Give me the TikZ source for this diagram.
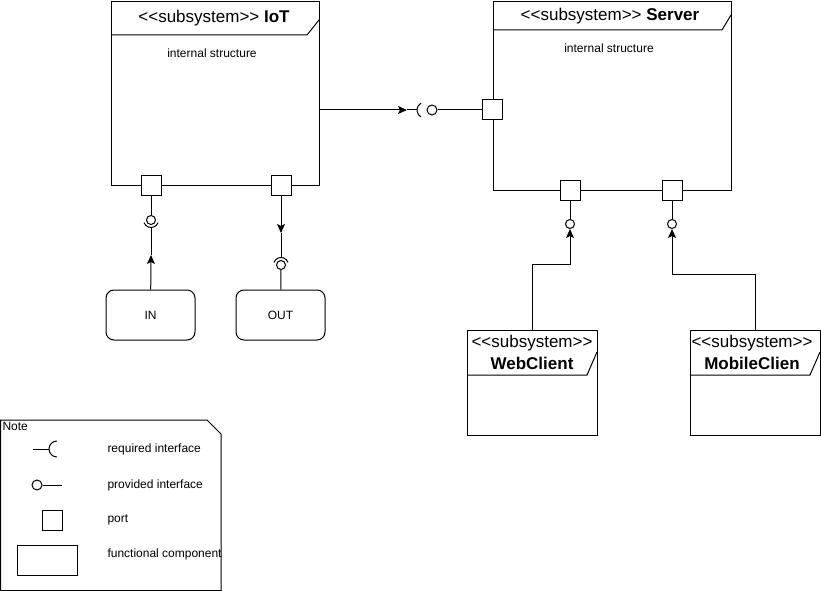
\documentclass[tikz,border=0pt]{standalone}
\usepackage{fontspec}
\setmainfont{Liberation Sans}
\usetikzlibrary{arrows.meta,positioning}
\newcommand{\stereo}{<\kern0pt<subsystem>\kern0pt>}

\begin{document}
\begin{tikzpicture}[x=1pt,y=-1pt,line width=1pt,
  box/.style={draw,anchor=north west,inner sep=0pt},
  port/.style={draw,fill=white,minimum size=20pt,inner sep=0pt},
  ball/.style={draw,circle,fill=white,minimum size=9pt,inner sep=0pt},
  func/.style={draw,rounded corners=8pt,minimum width=89pt,minimum height=50pt,font=\fontsize{12}{14}\selectfont},
  head/.style={font=\fontsize{17}{22}\selectfont,align=center},
  small/.style={font=\fontsize{12}{14}\selectfont},
  legend/.style={small,anchor=west,inner sep=0pt},
  arr/.style={-{Stealth[length=9pt,width=8pt,inset=2pt]}}]
\useasboundingbox (0,0) rectangle (821,591);

\node[box,minimum width=208pt,minimum height=184pt] (iot) at (111,1) {};
\draw (111,35) -- (307,35) -- (319,20);
\node[head] (iottitle) at (214,18) {\stereo\ \textbf{IoT}};
\node[small] (iotint) at (212,53) {internal structure};

\node[box,minimum width=238pt,minimum height=189pt] (srv) at (493,1) {};
\draw (493,30) -- (722,30) -- (731,15);
\node[head] (srvtitle) at (610,16) {\stereo\ \textbf{Server}};
\node[small] (srvint) at (609,48) {internal structure};

\node[port] (iotin) at (151,185) {};
\node[port] (iotout) at (281,185) {};
\node[port] (srvin) at (492,110) {};
\node[port] (srvweb) at (570,190) {};
\node[port] (srvmob) at (672,190) {};

\node[func] (in) at (150.5,315) {IN};
\node[func] (out) at (280.5,315) {OUT};

\node[ball] (inball) at (151,220) {};
\coordinate (insock) at (151,227.5);
\coordinate (inmid) at (151,255);
\draw (iotin) -- (inball);
\draw (inball.center) ++(20:7.5) arc (20:160:7.5);
\draw[arr] (in) -- (inmid);
\draw (inmid) -- (insock);

\node[ball] (outball) at (281,265) {};
\coordinate (outmid) at (281,233);
\coordinate (outsock) at (281,257.5);
\draw[arr] (iotout) -- (outmid);
\draw (outmid) -- (outsock);
\draw (outball.center) ++(200:7.5) arc (200:340:7.5);
\draw (outball) -- (out);

\coordinate (iotr) at (iot.east |- srvin);
\coordinate (reqmid) at (407,110);
\coordinate (reqsock) at (417,110);
\node[ball,minimum size=10pt] (reqball) at (432,110) {};
\draw[arr] (iotr) -- (reqmid);
\draw (reqmid) -- (reqsock);
\draw (425,110) ++(120:8) arc (120:240:8);
\draw (reqball) -- (srvin);

\node[ball] (webball) at (570,224) {};
\node[ball] (mobball) at (672,224) {};
\draw (srvweb) -- (webball);
\draw (srvmob) -- (mobball);

\node[box,minimum width=130pt,minimum height=105pt] (web) at (467,330) {};
\draw (467,375) -- (587,375) -- (597,352);
\node[head] (webtitle) at (532,352) {\stereo\\\textbf{WebClient}};
\draw[arr] (web.north) -- ++(0,-66) -| (webball);

\node[box,minimum width=130pt,minimum height=105pt] (mob) at (690,330) {};
\draw (690,375) -- (810,375) -- (820,352);
\node[head] (mobtitle) at (752,352) {\stereo\\\textbf{MobileClien}};
\draw[arr] (mob.north) -- ++(0,-56) -| (mobball);

\draw (0.5,420) -- (207,420) -- (221,434) -- (221,590.5) -- (0.5,590.5) -- cycle;
\node[small,anchor=north west,inner sep=1pt] (notelbl) at (1,421) {Note};

\coordinate (rq) at (33,449);
\draw (rq) -- (49,449);
\draw (57,449) ++(90:8) arc (90:270:8);
\node[legend] (rqtxt) at (107,449.5) {required interface};

\node[ball,minimum size=10pt] (pvball) at (37,485) {};
\coordinate (pv) at (62,485);
\draw (pvball) -- (pv);
\node[legend] (pvtxt) at (107,485) {provided interface};

\node[port] (lgport) at (52,520.5) {};
\node[legend] (lgporttxt) at (107,519.5) {port};

\node[draw,minimum width=60pt,minimum height=30pt,inner sep=0pt] (lgfunc) at (47,560) {};
\node[legend] (lgfunctxt) at (107,554) {functional component};
\end{tikzpicture}
\end{document}
